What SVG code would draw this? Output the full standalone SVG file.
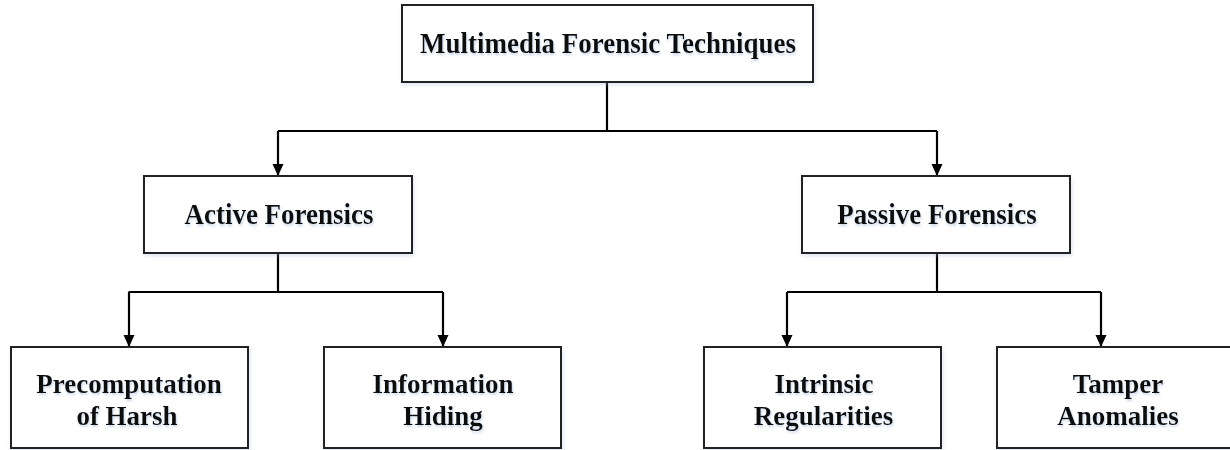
<svg xmlns="http://www.w3.org/2000/svg" width="1230" height="450" viewBox="0 0 1230 450">
  <defs>
    <style>
      .box { fill: #ffffff; stroke: #222222; stroke-width: 2; filter: url(#shadow); }
      .lbl { font-family: "Liberation Serif", "Times New Roman", serif; font-weight: bold; font-size: 27px; fill: #111111; text-anchor: middle; filter: url(#tshadow); }
      .conn { fill: none; stroke: #000000; stroke-width: 2.2; }
    </style>
    <filter id="shadow" x="-10%" y="-10%" width="120%" height="130%">
      <feDropShadow dx="1" dy="2" stdDeviation="2" flood-color="#9fb3d1" flood-opacity="0.35"/>
    </filter>
    <filter id="tshadow" x="-5%" y="-20%" width="110%" height="150%">
      <feDropShadow dx="1" dy="2" stdDeviation="1.2" flood-color="#9fb3d1" flood-opacity="0.5"/>
    </filter>
    <marker id="arrow" markerWidth="12" markerHeight="12" refX="12" refY="6" orient="auto" markerUnits="userSpaceOnUse">
      <path d="M0,0.5 L12,6 L0,11.5 Z" fill="#000000"/>
    </marker>
  </defs>
  <rect width="1230" height="450" fill="#ffffff"/>

  <g id="connectors">
    <path class="conn" d="M607,82 V131 M278,131 H937" />
    <path class="conn" d="M278,131 V176" marker-end="url(#arrow)"/>
    <path class="conn" d="M937,131 V176" marker-end="url(#arrow)"/>
    <path class="conn" d="M278,253 V292 M128.5,292 H443" />
    <path class="conn" d="M129,292 V347" marker-end="url(#arrow)"/>
    <path class="conn" d="M443,292 V347" marker-end="url(#arrow)"/>
    <path class="conn" d="M937,253 V292 M787,292 H1101" />
    <path class="conn" d="M787,292 V347" marker-end="url(#arrow)"/>
    <path class="conn" d="M1101,292 V347" marker-end="url(#arrow)"/>
  </g>

  <g id="node-root">
    <rect class="box" x="402" y="5" width="411" height="77"/>
    <text class="lbl" transform="translate(608,52.7) scale(1,1.08)">Multimedia Forensic Techniques</text>
  </g>

  <g id="node-active">
    <rect class="box" x="144" y="176" width="268" height="77"/>
    <text class="lbl" transform="translate(279,224) scale(1,1.08)">Active Forensics</text>
  </g>

  <g id="node-passive">
    <rect class="box" x="802" y="176" width="268" height="77"/>
    <text class="lbl" transform="translate(937,224) scale(1,1.08)">Passive Forensics</text>
  </g>

  <g id="node-precomputation">
    <rect class="box" x="11" y="347" width="237" height="101"/>
    <text class="lbl" x="129" y="393">Precomputation</text>
    <text class="lbl" x="127" y="424.5">of Harsh</text>
  </g>

  <g id="node-information">
    <rect class="box" x="324" y="347" width="237" height="101"/>
    <text class="lbl" x="443" y="393">Information</text>
    <text class="lbl" x="443" y="424.5">Hiding</text>
  </g>

  <g id="node-intrinsic">
    <rect class="box" x="704" y="347" width="237" height="101"/>
    <text class="lbl" x="824" y="393">Intrinsic</text>
    <text class="lbl" x="823.5" y="424.5">Regularities</text>
  </g>

  <g id="node-tamper">
    <rect class="box" x="997" y="347" width="242" height="101"/>
    <text class="lbl" x="1118" y="393">Tamper</text>
    <text class="lbl" x="1118" y="424.5">Anomalies</text>
  </g>
</svg>
